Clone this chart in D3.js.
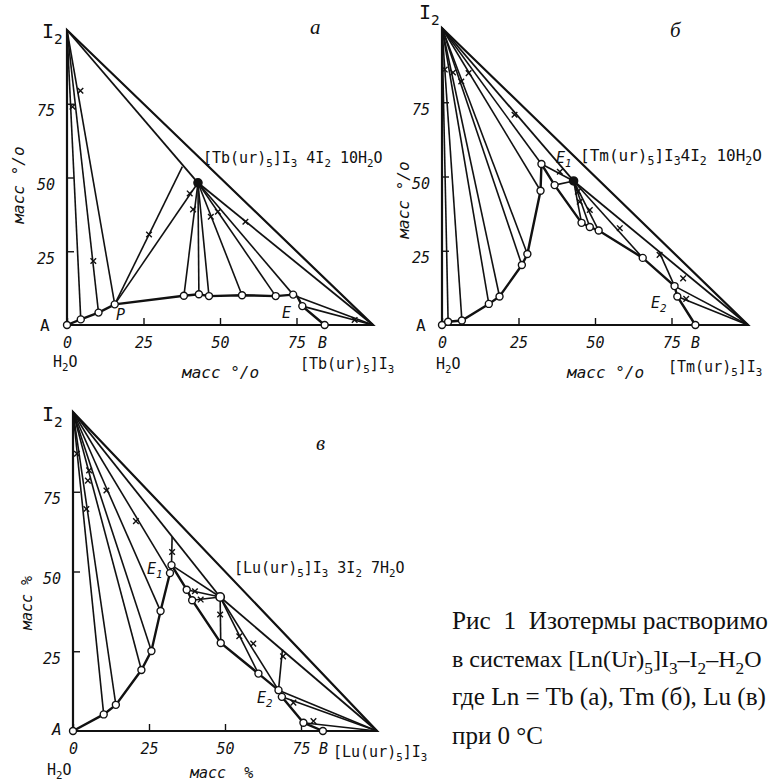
<!DOCTYPE html>
<html>
<head>
<meta charset="utf-8">
<script src="https://cdn.jsdelivr.net/npm/d3@7"></script>
<style>
  body { margin: 0; background: #fff; }
  svg { display: block; }
  text { white-space: pre; }
</style>
</head>
<body>
<script>
// compositions in mass %: [salt, I2]; water is the rest
const tickValues = [0, 25, 50, 75];

// а: Tb
const tbCurve = [[0,0],[4.5,1.9],[10.3,4.2],[15.6,7.0],[38.2,9.9],[43.1,10.4],[46.4,9.8],[57.2,10.1],[68.2,9.8],[73.9,10.3],[75.3,9.6],[76.9,6.4],[84.2,0]];
const tbPoints = [[0,0],[4.5,1.9],[10.3,4.2],[15.6,7.0],[38.2,9.9],[43.1,10.4],[46.4,9.8],[57.2,10.1],[68.2,9.8],[73.9,10.3],[76.9,6.4],[84.2,0]];
const tbCompound = [42.8, 48.2];
const tbToI2 = [[4.5,1.9],[10.3,4.2],[15.6,7.0]];
const tbToCompound = [[15.6,7.0],[38.2,9.9],[43.1,10.4],[46.4,9.8],[57.2,10.1],[68.2,9.8],[73.9,10.3]];
const tbToSalt = [[75.3,9.6],[76.9,6.4]];
const tbExtra = [[[15.6,7.0],[37.7,53.7]]];
const tbWet = [[1.8,74],[8.6,21.7],[4.4,79.4],[26.8,30.7],[40.1,44.6],[41.2,39.2],[47,36.7],[49.3,38.4],[58.3,35],[94,1.7]];

// б: Tm
const tmCurve = [[0,0],[2.0,1.1],[6.5,1.5],[15.3,7.1],[18.8,9.6],[26.1,20.2],[27.9,23.9],[32.2,45.2],[32.5,54.2],[36.8,47.1],[45.6,34.4],[48.3,33.0],[51.2,31.8],[65.6,22.6],[76.0,13.1],[76.9,9.6],[82.8,0]];
const tmPoints = tmCurve.slice();
const tmCompound = [43, 48.5];
const tmToI2 = [[2.0,1.1],[6.5,1.5],[15.3,7.1],[18.8,9.6],[26.1,20.2],[27.9,23.9],[32.2,45.2],[32.5,54.2]];
const tmToCompound = [[32.5,54.2],[36.8,47.1],[45.6,34.4],[48.3,33.0],[51.2,31.8],[65.6,22.6]];
const tmToSalt = [[76.0,13.1],[76.9,9.6]];
const tmExtra = [[[76.0,13.1],[71.0,24.6]]];
const tmWet = [[0.9,86],[3.6,85],[6.3,82],[8.7,84.8],[23.7,70.8],[38.5,51.6],[44.4,44.9],[45,41.5],[48.3,38.7],[58.1,32.6],[71.1,23.6],[78.8,15.7],[79.8,8.8]];

// в: Lu
const luCurve = [[0,0],[10.1,5.2],[14.1,8.2],[22.5,19.1],[25.8,25.1],[28.8,37.6],[31.9,49.5],[32.4,52.0],[37.4,44.3],[39.2,41.0],[48.6,27.6],[61,18],[67.6,12.8],[68.7,10.7],[75.8,2.6],[82.2,0]];
const luPoints = luCurve.slice();
const luCompound = [48.4, 42.0];
const luToI2 = [[10.1,5.2],[14.1,8.2],[22.5,19.1],[25.8,25.1],[28.8,37.6],[31.9,49.5]];
const luToCompound = [[32.4,52.0],[37.4,44.3],[39.2,41.0],[48.6,27.6],[61,18],[67.6,12.8]];
const luToSalt = [[67.6,12.8],[68.7,10.7],[75.8,2.6]];
const luExtra = [[[32.4,52.0],[32.6,60.8]],[[67.6,12.8],[68.9,25.6]]];
const luWet = [[1.3,86.9],[5.3,81.7],[4.9,78.5],[4.4,69.6],[11,75.4],[20.7,65.8],[32.6,56.1],[40.1,43.8],[42,41.2],[48.4,36.5],[54.7,29.7],[59.3,27.4],[69.1,23.4],[72.5,8.9],[79.1,3.1]];

const W = 771, H = 781;
const INK = "#111";
const MONO = "'DejaVu Sans Mono','Liberation Mono',monospace";
const SERIF = "'Liberation Serif','DejaVu Serif',serif";

const svg = d3.select("body").append("svg")
  .attr("width", W).attr("height", H)
  .style("font-family", MONO)
  .attr("fill", INK);

// text with "_x" = subscript x
function chem(sel, str, x, y, size, opts) {
  opts = opts || {};
  const t = sel.append("text")
    .attr("x", x).attr("y", y)
    .attr("font-size", size)
    .attr("font-style", opts.italic ? "italic" : null)
    .attr("font-family", opts.family || null)
    .attr("text-anchor", opts.anchor || "start");
  const parts = str.split(/(_.)/).filter(s => s);
  let sub = false;
  parts.forEach(p => {
    if (p[0] === "_") {
      t.append("tspan").attr("dy", sub ? 0 : size * 0.28).attr("font-size", size * 0.72).text(p[1]);
      sub = true;
    } else {
      t.append("tspan").attr("dy", sub ? -size * 0.28 : 0).text(p);
      sub = false;
    }
  });
  if (opts.len) t.attr("textLength", opts.len).attr("lengthAdjust", "spacingAndGlyphs");
  return t;
}

function drawPanel(frame, d) {
  const x = d3.scaleLinear().domain([0, 100]).range([frame.x0, frame.x1]);
  const y = d3.scaleLinear().domain([0, 100]).range([frame.y0, frame.y1]);
  const line = d3.line().x(p => x(p[0])).y(p => y(p[1]));
  const I2 = [0, 100], salt = [100, 0];
  const g = svg.append("g");

  const seg = (a, b, w) => g.append("path")
    .attr("d", line([a, b]))
    .attr("fill", "none").attr("stroke", INK).attr("stroke-width", w);

  d.toI2.forEach(p => seg(p, I2, 1.6));
  d.toComp.forEach(p => seg(p, d.compound, 1.6));
  d.toSalt.forEach(p => seg(p, salt, 1.6));
  d.extra.forEach(s => seg(s[0], s[1], 1.6));
  seg(I2, d.compound, 1.8);
  seg(d.compound, salt, 1.8);

  // triangle frame
  g.append("path")
    .attr("d", line([[0, 0], [0, 100], [100, 0]]) + "Z")
    .attr("fill", "none").attr("stroke", INK).attr("stroke-width", 2.2)
    .attr("stroke-linejoin", "miter");

  // solubility curve
  g.append("path")
    .attr("d", line(d.curve))
    .attr("fill", "none").attr("stroke", INK).attr("stroke-width", 2.4);

  // axes
  const xa = g.append("g")
    .attr("transform", `translate(0,${frame.y0})`)
    .call(d3.axisBottom(x).tickValues(tickValues).tickSizeInner(-7).tickSizeOuter(0).tickPadding(12));
  const ya = g.append("g")
    .attr("transform", `translate(${frame.x0},0)`)
    .call(d3.axisLeft(y).tickValues(tickValues.slice(1)).tickSizeInner(-7).tickSizeOuter(0).tickPadding(12));
  [xa, ya].forEach(a => {
    a.select(".domain").remove();
    a.selectAll(".tick line").attr("stroke", INK).attr("stroke-width", 1.4);
    a.selectAll(".tick text")
      .attr("fill", INK)
      .attr("font-family", MONO)
      .attr("font-size", 15)
      .attr("font-style", "italic");
  });
  ya.selectAll(".tick text").attr("dy", "0.8em");

  // wet residues
  const s = 2.8;
  g.selectAll(".wet").data(d.wet).join("path")
    .attr("class", "wet")
    .attr("d", p => `M${x(p[0]) - s},${y(p[1]) - s}L${x(p[0]) + s},${y(p[1]) + s}M${x(p[0]) - s},${y(p[1]) + s}L${x(p[0]) + s},${y(p[1]) - s}`)
    .attr("stroke", INK).attr("stroke-width", 1.4).attr("fill", "none");

  // liquid points
  g.selectAll(".pt").data(d.points).join("circle")
    .attr("class", "pt")
    .attr("cx", p => x(p[0])).attr("cy", p => y(p[1]))
    .attr("r", 3.5)
    .attr("fill", "#fff").attr("stroke", INK).attr("stroke-width", 1.4);

  // compound
  g.append("circle")
    .attr("cx", x(d.compound[0])).attr("cy", y(d.compound[1]))
    .attr("r", d.openCompound ? 4.2 : 4)
    .attr("fill", d.openCompound ? "#fff" : INK)
    .attr("stroke", INK).attr("stroke-width", 1.6);

  return g;
}

// а
const ga = drawPanel({x0: 67, x1: 373, y0: 325, y1: 30},
  {curve: tbCurve, points: tbPoints, compound: tbCompound, toI2: tbToI2, toComp: tbToCompound,
   toSalt: tbToSalt, extra: tbExtra, wet: tbWet});
chem(ga, "I_2", 42, 38, 20);
chem(ga, "а", 310, 34, 21, {italic: true, family: SERIF});
chem(ga, "A", 40, 331, 16);
chem(ga, "B", 318, 348, 15, {italic: true});
chem(ga, "H_2O", 53, 367, 15);
chem(ga, "масс °/о", 182, 378, 16, {italic: true});
chem(ga, "[Tb(ur)_5]I_3", 300, 369, 15);
chem(ga, "[Tb(ur)_5]I_3 4I_2 10H_2O", 203, 163, 15);
chem(ga, "P", 116, 320, 15, {italic: true});
chem(ga, "E", 282, 318, 15, {italic: true});
chem(ga, "масс °/о", 0, 0, 16, {italic: true, anchor: "middle"})
  .attr("transform", "translate(24,185) rotate(-90)");

// б
const gb = drawPanel({x0: 442, x1: 748, y0: 325, y1: 28},
  {curve: tmCurve, points: tmPoints, compound: tmCompound, toI2: tmToI2, toComp: tmToCompound,
   toSalt: tmToSalt, extra: tmExtra, wet: tmWet});
chem(gb, "I_2", 419, 19, 20);
chem(gb, "б", 670, 37, 21, {italic: true, family: SERIF});
chem(gb, "A", 416, 331, 16);
chem(gb, "B", 691, 348, 15, {italic: true});
chem(gb, "H_2O", 436, 369, 15);
chem(gb, "масс °/о", 567, 378, 16, {italic: true});
chem(gb, "[Tm(ur)_5]I_3", 668, 372, 15);
chem(gb, "[Tm(ur)_5]I_34I_2 10H_2O", 580, 161, 16);
chem(gb, "E_1", 556, 163, 15, {italic: true});
chem(gb, "E_2", 651, 308, 15, {italic: true});
chem(gb, "масс °/о", 0, 0, 16, {italic: true, anchor: "middle"})
  .attr("transform", "translate(409,200) rotate(-90)");

// в
const gc = drawPanel({x0: 73, x1: 377, y0: 731, y1: 412},
  {curve: luCurve, points: luPoints, compound: luCompound, toI2: luToI2, toComp: luToCompound,
   toSalt: luToSalt, extra: luExtra, wet: luWet, openCompound: true});
chem(gc, "I_2", 42, 421, 20);
chem(gc, "в", 316, 450, 21, {italic: true, family: SERIF});
chem(gc, "A", 52, 735, 16, {italic: true});
chem(gc, "B", 319, 754, 15, {italic: true});
chem(gc, "H_2O", 47, 775, 15);
chem(gc, "масс  %", 190, 778, 15, {italic: true});
chem(gc, "[Lu(ur)_5]I_3", 333, 757, 15);
chem(gc, "[Lu(ur)_5]I_3 3I_2 7H_2O", 234, 573, 15);
chem(gc, "E_1", 147, 574, 15, {italic: true});
chem(gc, "E_2", 257, 703, 15, {italic: true});
chem(gc, "масс %", 0, 0, 15, {italic: true, anchor: "middle"})
  .attr("transform", "translate(32,603) rotate(-90)");

// caption
const cap = svg.append("g").attr("font-family", SERIF);
chem(cap, "Рис  1  Изотермы растворимо", 452, 629, 25, {len: 316});
chem(cap, "в системах [Ln(Ur)_5]I_3–I_2–H_2O", 452, 667, 24);
chem(cap, "где Ln = Tb (а), Tm (б), Lu (в)", 452, 705, 25, {len: 314});
chem(cap, "при 0 °C", 452, 744, 25);
</script>
</body>
</html>
